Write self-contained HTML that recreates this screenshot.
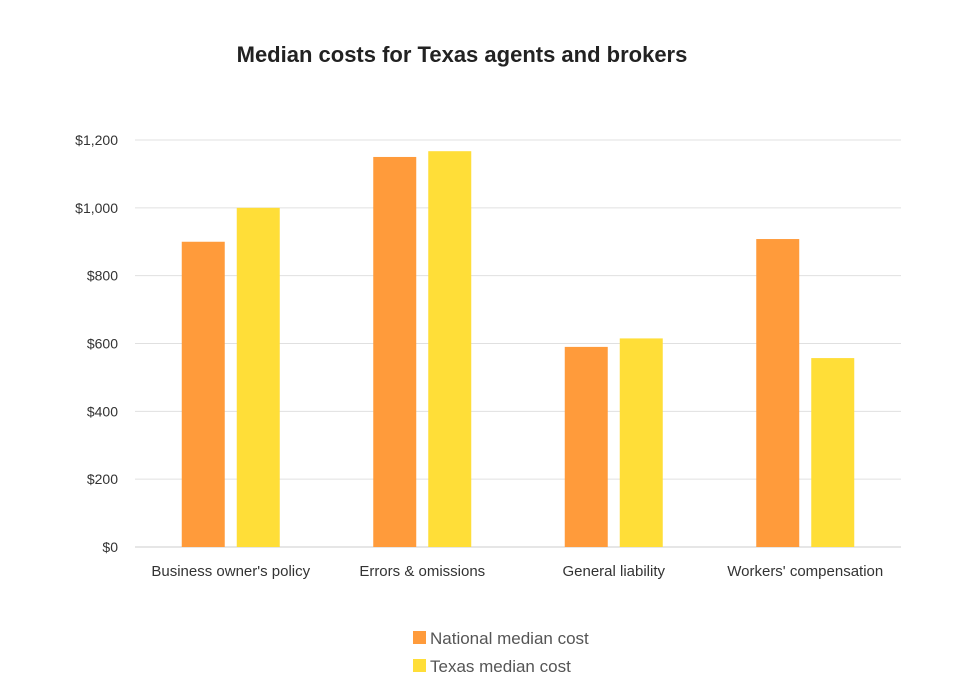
<!DOCTYPE html>
<html><head><meta charset="utf-8"><style>
body{margin:0;background:#fff;font-family:"Liberation Sans",sans-serif;}
svg text{font-family:"Liberation Sans",sans-serif;}
</style></head><body>
<svg id="chart" width="958" height="682" viewBox="0 0 958 682" xmlns="http://www.w3.org/2000/svg">
<rect width="958" height="682" fill="#fff"/>
<text x="462" y="62" text-anchor="middle" font-size="22" font-weight="bold" fill="#222">Median costs for Texas agents and brokers</text>
<g id="grid"></g><g id="bars"></g><g id="labels"></g>
<g>
<rect x="413" y="631" width="13" height="13" fill="#FF9B3B"/>
<text x="430" y="644" font-size="17" fill="#555">National median cost</text>
<rect x="413" y="659" width="13" height="13" fill="#FFDE38"/>
<text x="430" y="672" font-size="17" fill="#555">Texas median cost</text>
</g>
</svg>
<script>
const categories=["Business owner's policy","Errors & omissions","General liability","Workers' compensation"];
const nationalValues=[900,1150,590,908];
const texasValues=[1000,1167,615,557];
const tickValues=[0,200,400,600,800,1000,1200];
const tickLabels=["$0","$200","$400","$600","$800","$1,000","$1,200"];
const NS="http://www.w3.org/2000/svg";
const x0=135,x1=901,y0=547,y1=140,maxV=1200;
const yScale=v=>y0-(v/maxV)*(y0-y1);
const bandW=(x1-x0)/categories.length;
const xCenter=i=>x0+bandW*(i+0.5);
const grid=document.getElementById('grid'),bars=document.getElementById('bars'),labels=document.getElementById('labels');
function mk(tag,attrs,parent){const e=document.createElementNS(NS,tag);for(const k in attrs)e.setAttribute(k,attrs[k]);parent.appendChild(e);return e;}
tickValues.forEach((v,i)=>{
  const l=mk('line',{x1:x0,x2:x1,y1:yScale(v),y2:yScale(v),stroke:i===0?'#ccc':'#e0e0e0','stroke-width':1},grid);
  
  
  const t=mk('text',{x:118,y:yScale(v)+5,'text-anchor':'end','font-size':14,fill:'#333'},labels);
  t.textContent=tickLabels[i];
  
  
});
const bw=43,gap=12;
categories.forEach((c,i)=>{
  const cx=xCenter(i);
  const bn=mk('rect',{x:cx-gap/2-bw,y:yScale(nationalValues[i]),width:bw,height:y0-yScale(nationalValues[i]),fill:'#FF9B3B'},bars);
  
  
  const bt=mk('rect',{x:cx+gap/2,y:yScale(texasValues[i]),width:bw,height:y0-yScale(texasValues[i]),fill:'#FFDE38'},bars);
  
  
  const t=mk('text',{x:cx,y:576,'text-anchor':'middle','font-size':15,fill:'#333'},labels);
  t.textContent=c;
  
  
});
</script>
</body></html>
